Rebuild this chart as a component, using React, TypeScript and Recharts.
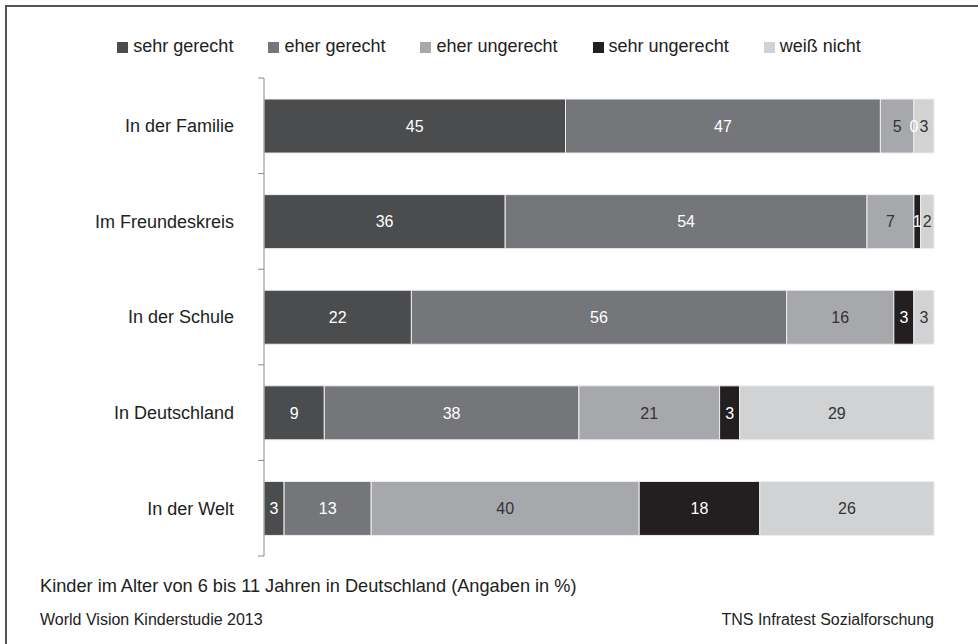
import React from "react";
import { BarChart, Bar, XAxis, YAxis, LabelList } from "recharts";

const categories = ["In der Familie", "Im Freundeskreis", "In der Schule", "In Deutschland", "In der Welt"];
const seriesNames = ["sehr gerecht", "eher gerecht", "eher ungerecht", "sehr ungerecht", "weiß nicht"];
const sehrGerecht = [45, 36, 22, 9, 3];
const eherGerecht = [47, 54, 56, 38, 13];
const eherUngerecht = [5, 7, 16, 21, 40];
const sehrUngerecht = [0, 1, 3, 3, 18];
const weissNicht = [3, 2, 3, 29, 26];
const seriesValues = [sehrGerecht, eherGerecht, eherUngerecht, sehrUngerecht, weissNicht];
const seriesColors = ["#4b4c4e", "#75767a", "#a7a8ab", "#231f20", "#d1d2d4"];
const labelColors = ["#ffffff", "#ffffff", "#333333", "#ffffff", "#333333"];
const keys = ["s0", "s1", "s2", "s3", "s4"];

const subtitle = "Kinder im Alter von 6 bis 11 Jahren in Deutschland (Angaben in %)";
const sourceLeft = "World Vision Kinderstudie 2013";
const sourceRight = "TNS Infratest Sozialforschung";

const data = categories.map((c, i) => {
  const row: any = { name: c };
  keys.forEach((k, j) => (row[k] = seriesValues[j][i]));
  return row;
});

const W = 978;
const H = 644;
const M = { top: 78, right: 44, bottom: 88, left: 0 };
const YW = 264;
const TICK_MARGIN = 30;
const PLOT_H = H - M.top - M.bottom;
const FONT = "'Liberation Sans', Arial, sans-serif";

const CatTick = (props: any) => {
  const { x, y, payload } = props;
  const band = PLOT_H / categories.length;
  const ax = x + TICK_MARGIN;
  const isLast = payload.value === categories[categories.length - 1];
  return (
    <g>
      <line x1={ax - 6} x2={ax} y1={y - band / 2} y2={y - band / 2} stroke="#8a8a8a" strokeWidth={1} />
      {isLast && <line x1={ax - 6} x2={ax} y1={y + band / 2} y2={y + band / 2} stroke="#8a8a8a" strokeWidth={1} />}
      <text x={x} y={y} dy="0.36em" textAnchor="end" fill="#222" fontSize={18} fontFamily={FONT}>
        {payload.value}
      </text>
    </g>
  );
};

// Label renderer: draws a series' value at the centre of its segment; the last series
// also draws the previous series' label when that segment has zero width (it starts where this one begins).
const makeLabel = (j: number) => (p: any) => {
  const { x, y, width, height, value, index } = p;
  const cy = y + height / 2;
  const out: any[] = [];
  if (width > 0 || value !== 0) {
    out.push(
      <text key="a" x={x + width / 2} y={cy} dy="0.36em" textAnchor="middle" fill={labelColors[j]} fontSize={16} fontFamily={FONT}>
        {value}
      </text>
    );
  }
  if (j === keys.length - 1 && index != null) {
    const prevVal = seriesValues[j - 1][index];
    if (prevVal === 0) {
      out.push(
        <text key="b" x={x} y={cy} dy="0.36em" textAnchor="middle" fill={labelColors[j - 1]} fontSize={16} fontFamily={FONT}>
          {prevVal}
        </text>
      );
    }
  }
  return <g>{out}</g>;
};

export default function App() {
  return (
    <div style={{ position: "absolute", left: 0, top: 0, width: W, height: H, background: "#fff", overflow: "hidden", fontFamily: FONT }}>
      <div style={{ position: "absolute", left: 5, top: 5, width: W, height: H, borderTop: "2px solid #555", borderLeft: "2px solid #555", boxSizing: "border-box" }} />
      <div style={{ position: "absolute", left: 0, top: 35, width: W, display: "flex", justifyContent: "center", fontSize: 18, lineHeight: "22px", color: "#222" }}>
        {seriesNames.map((n, i) => (
          <div key={n} style={{ display: "flex", alignItems: "center", marginRight: i < seriesNames.length - 1 ? 35 : 0 }}>
            <span style={{ display: "inline-block", width: 11, height: 11, background: seriesColors[i], marginRight: 5, marginTop: 3 }} />
            <span>{n}</span>
          </div>
        ))}
      </div>
      <div style={{ position: "absolute", left: 0, top: 0 }}>
        <BarChart width={W} height={H} data={data} layout="vertical" margin={M} barCategoryGap="22%">
          <XAxis type="number" domain={[0, 100]} tick={false} tickLine={false} height={0} axisLine={{ stroke: "#8a8a8a" }} />
          <YAxis
            type="category"
            dataKey="name"
            width={YW}
            tickSize={0}
            tickMargin={TICK_MARGIN}
            tick={<CatTick />}
            axisLine={{ stroke: "#8a8a8a" }}
            interval={0}
          />
          {keys.map((k, j) => (
            <Bar key={k} dataKey={k} stackId="a" fill={seriesColors[j]} stroke="#eeeeee" strokeWidth={1} isAnimationActive={false}>
              <LabelList dataKey={k} content={makeLabel(j)} />
            </Bar>
          ))}
        </BarChart>
      </div>
      <div style={{ position: "absolute", left: 40, top: 575, fontSize: 18.2, lineHeight: "22px", color: "#222" }}>{subtitle}</div>
      <div style={{ position: "absolute", left: 40, top: 610, fontSize: 16, lineHeight: "20px", color: "#222" }}>{sourceLeft}</div>
      <div style={{ position: "absolute", right: W - 934, top: 610, fontSize: 16, lineHeight: "20px", color: "#222" }}>{sourceRight}</div>
    </div>
  );
}
